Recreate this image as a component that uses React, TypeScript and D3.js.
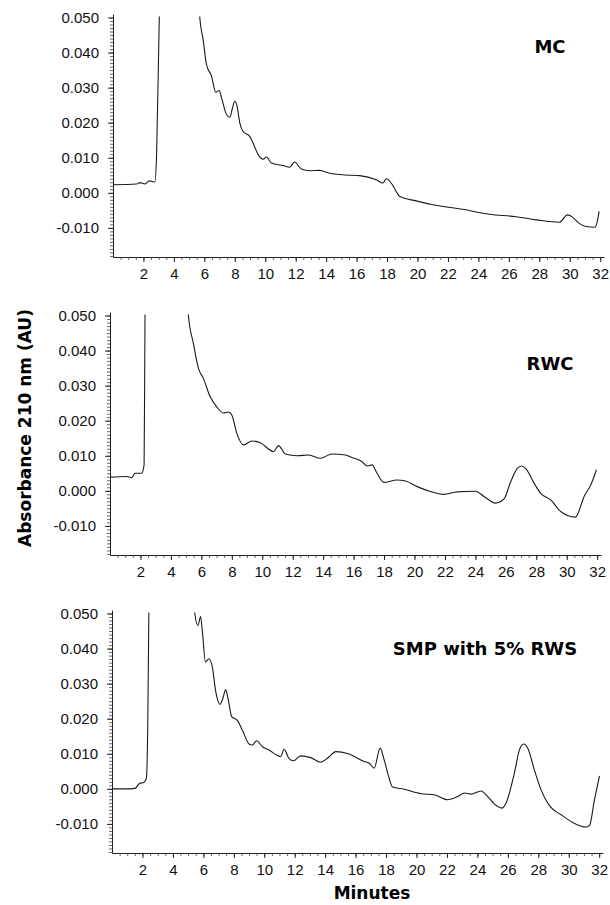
import React, { useEffect, useRef } from 'react';
import * as d3 from 'd3';

// chromatogram traces (minutes, AU)
const mcTime = [0, 1.55, 1.77, 2.1, 2.38, 2.75, 2.86, 3.04, 3.3, 4.4, 5.5, 5.7, 5.92, 6.14, 6.47, 6.75, 6.97, 7.13, 7.41, 7.67, 7.85, 8.0, 8.15, 8.33, 8.55, 8.98, 9.2, 9.53, 9.86, 10.08, 10.4, 11.17, 11.6, 11.93, 12.37, 12.92, 13.57, 14.23, 15.3, 16.2, 17.29, 17.73, 17.95, 18.27, 18.6, 18.82, 19.91, 21.0, 22.97, 24.72, 26.47, 27.8, 29.31, 29.85, 30.07, 30.62, 31.06, 31.67, 31.83, 31.93];
const mcAbs = [0.0023, 0.0025, 0.0029, 0.0025, 0.0034, 0.0031, 0.0104, 0.05, 0.09, 0.2, 0.08, 0.05, 0.0437, 0.0366, 0.0333, 0.0287, 0.0292, 0.0271, 0.0228, 0.0216, 0.0242, 0.0261, 0.0247, 0.0199, 0.0175, 0.0161, 0.0142, 0.0109, 0.0096, 0.0102, 0.0085, 0.0078, 0.0073, 0.0088, 0.0068, 0.0063, 0.0064, 0.0056, 0.0051, 0.0049, 0.0037, 0.0028, 0.004, 0.0028, 0.0004, -0.001, -0.0023, -0.0034, -0.0047, -0.0061, -0.0068, -0.0077, -0.0084, -0.0063, -0.0066, -0.0087, -0.0096, -0.0098, -0.0077, -0.0053];

const rwcTime = [0, 1.1, 1.43, 1.64, 2.08, 2.24, 2.3, 2.5, 3.8, 5.0, 5.15, 5.48, 5.81, 6.14, 6.58, 7.02, 7.46, 7.78, 8.0, 8.33, 8.77, 9.32, 9.87, 10.75, 11.07, 11.51, 12.28, 13.05, 13.82, 14.58, 15.46, 15.9, 16.56, 16.89, 17.21, 17.54, 17.98, 18.86, 19.41, 20.18, 21.05, 21.93, 22.81, 24.01, 24.56, 25.33, 25.88, 26.32, 26.75, 27.02, 27.3, 27.85, 28.29, 28.95, 29.6, 30.59, 30.7, 31.14, 31.58, 31.95];
const rwcAbs = [0.0039, 0.0041, 0.0038, 0.005, 0.005, 0.0074, 0.05, 0.1, 0.2, 0.07, 0.05, 0.042, 0.0349, 0.032, 0.0268, 0.0239, 0.0222, 0.0225, 0.0216, 0.0164, 0.0131, 0.0142, 0.0137, 0.0112, 0.0129, 0.0105, 0.01, 0.0102, 0.0093, 0.0105, 0.0102, 0.0095, 0.0083, 0.0071, 0.0074, 0.005, 0.0024, 0.0031, 0.0028, 0.0012, -0.0002, -0.001, -0.0003, -0.0001, -0.0016, -0.0035, -0.0023, 0.0026, 0.0064, 0.0071, 0.0064, 0.0022, -0.0007, -0.0026, -0.0059, -0.0075, -0.0068, -0.0016, 0.0017, 0.006];

const smpTime = [0, 1.21, 1.54, 1.82, 2.09, 2.26, 2.35, 2.42, 2.6, 4.0, 5.3, 5.44, 5.64, 5.82, 5.93, 6.14, 6.36, 6.59, 6.8, 7.09, 7.31, 7.46, 7.64, 7.86, 8.23, 8.56, 9.0, 9.22, 9.5, 9.88, 10.31, 10.86, 11.08, 11.3, 11.62, 11.92, 12.39, 13.05, 13.71, 14.15, 14.7, 15.47, 16.56, 16.89, 17.22, 17.61, 17.88, 18.14, 18.43, 19.19, 20.29, 21.16, 22.04, 22.7, 23.14, 23.58, 24.24, 24.68, 25.11, 25.6, 25.88, 26.43, 26.76, 27.04, 27.31, 27.74, 28.18, 28.73, 29.5, 30.27, 31.14, 31.36, 31.69, 32.02];
const smpAbs = [0, 0, 0.0002, 0.0016, 0.0018, 0.0031, 0.0187, 0.05, 0.1, 0.2, 0.07, 0.05, 0.0466, 0.0491, 0.0452, 0.0362, 0.0371, 0.0348, 0.0281, 0.0241, 0.0262, 0.0283, 0.0253, 0.0206, 0.0195, 0.0168, 0.0128, 0.0125, 0.0137, 0.012, 0.0111, 0.0095, 0.0092, 0.0113, 0.0087, 0.008, 0.0094, 0.0089, 0.0076, 0.0087, 0.0106, 0.0101, 0.0078, 0.0073, 0.0059, 0.0116, 0.0082, 0.004, 0.0005, -0.0001, -0.0014, -0.0017, -0.0031, -0.0022, -0.0012, -0.0015, -0.0006, -0.0022, -0.0043, -0.0055, -0.0041, 0.0045, 0.0111, 0.0128, 0.0116, 0.0054, -0.0003, -0.0048, -0.0074, -0.0096, -0.0109, -0.0105, -0.0031, 0.0037];

const titles = ['MC', 'RWC', 'SMP with 5% RWS'];
const yTickLabels = [-0.01, 0, 0.01, 0.02, 0.03, 0.04, 0.05];
const xTickLabels = [2, 4, 6, 8, 10, 12, 14, 16, 18, 20, 22, 24, 26, 28, 30, 32];

const W = 610;
const H = 905;

export default function App() {
  const svgRef = useRef<SVGSVGElement>(null);

  useEffect(() => {
    const svg = d3.select(svgRef.current);
    svg.selectAll('*').remove();

    // panel placement (pixel of t=0, bottom axis, title spot)
    const layout = [
      { x0: 113, bottom: 257, tx: 550, ty: 46 },
      { x0: 110, bottom: 555, tx: 550, ty: 363 },
      { x0: 112, bottom: 853, tx: 485, ty: 648 },
    ];
    const series = [
      { t: mcTime, v: mcAbs },
      { t: rwcTime, v: rwcAbs },
      { t: smpTime, v: smpAbs },
    ];

    const yMin = -0.0183;
    const yMax = 0.051;
    const plotH = 243;
    const plotW = 491;
    const tickFont = '"Liberation Sans", Arial, sans-serif';

    layout.forEach((p, i) => {
      const x = d3.scaleLinear().domain([0, 32.25]).range([p.x0, p.x0 + plotW]);
      const y = d3.scaleLinear().domain([yMin, yMax]).range([p.bottom, p.bottom - plotH]);
      const g = svg.append('g');

      // y axis: minor every 0.001, major every 0.010
      const minorY = d3.range(-18, 51).map((k) => k / 1000);
      g.append('g')
        .attr('transform', `translate(${p.x0},0)`)
        .call(d3.axisLeft(y).tickValues(minorY).tickSize(3).tickSizeOuter(0).tickFormat(() => ''))
        .call((a) => a.select('.domain').attr('stroke', '#222'))
        .call((a) => a.selectAll('line').attr('stroke', '#444').attr('stroke-width', 0.8));
      g.append('g')
        .attr('transform', `translate(${p.x0},0)`)
        .call(d3.axisLeft(y).tickValues(yTickLabels).tickSize(5).tickSizeOuter(0).tickPadding(9)
          .tickFormat((d) => (d as number).toFixed(3)))
        .call((a) => a.select('.domain').remove())
        .call((a) => a.selectAll('line').attr('stroke', '#222'))
        .call((a) => a.selectAll('text')
          .attr('font-family', tickFont)
          .attr('font-size', 15).attr('fill', '#111'));

      // x axis: minor every 0.5 min, labelled every 2 min
      const minorX = d3.range(1, 65).map((k) => k / 2);
      g.append('g')
        .attr('transform', `translate(0,${p.bottom})`)
        .call(d3.axisBottom(x).tickValues(minorX).tickSize(3).tickSizeOuter(0).tickFormat(() => ''))
        .call((a) => a.select('.domain').attr('stroke', '#222'))
        .call((a) => a.selectAll('line').attr('stroke', '#444').attr('stroke-width', 0.8));
      g.append('g')
        .attr('transform', `translate(0,${p.bottom})`)
        .call(d3.axisBottom(x).tickValues(xTickLabels).tickSize(5).tickSizeOuter(0).tickPadding(6)
          .tickFormat((d) => String(d)))
        .call((a) => a.select('.domain').remove())
        .call((a) => a.selectAll('line').attr('stroke', '#222'))
        .call((a) => a.selectAll('text')
          .attr('font-family', tickFont)
          .attr('font-size', 15).attr('fill', '#111'));

      // trace, clipped where the detector went off scale
      const clipId = `clip${i}`;
      svg.append('clipPath').attr('id', clipId)
        .append('rect')
        .attr('x', p.x0).attr('y', y(0.0503))
        .attr('width', plotW + 4).attr('height', p.bottom - y(0.0503));

      const s = series[i];
      const pts: [number, number][] = s.t.map((t, k) => [t, s.v[k]]);
      const line = d3.line<[number, number]>()
        .x((d) => x(d[0]))
        .y((d) => y(d[1]))
        .curve(d3.curveMonotoneX);
      g.append('path')
        .attr('d', line(pts))
        .attr('clip-path', `url(#${clipId})`)
        .attr('fill', 'none')
        .attr('stroke', '#1a1a1a')
        .attr('stroke-width', 1.1);

      g.append('text')
        .attr('x', p.tx).attr('y', p.ty)
        .attr('text-anchor', 'middle').attr('dominant-baseline', 'central')
        .attr('font-family', '"DejaVu Sans", Verdana, sans-serif')
        .attr('font-weight', 'bold').attr('font-size', 18)
        .text(titles[i]);
    });

    svg.append('text')
      .attr('transform', 'translate(25,428) rotate(-90)')
      .attr('text-anchor', 'middle').attr('dominant-baseline', 'central')
      .attr('font-family', '"DejaVu Sans", Verdana, sans-serif')
      .attr('font-weight', 'bold').attr('font-size', 17)
      .text('Absorbance 210 nm (AU)');

    svg.append('text')
      .attr('x', 372).attr('y', 893)
      .attr('text-anchor', 'middle').attr('dominant-baseline', 'central')
      .attr('font-family', '"DejaVu Sans", Verdana, sans-serif')
      .attr('font-weight', 'bold').attr('font-size', 17)
      .text('Minutes');
  }, []);

  return (
    <svg ref={svgRef} width={W} height={H}
      style={{ position: 'absolute', left: 0, top: 0, background: '#fff' }} />
  );
}
